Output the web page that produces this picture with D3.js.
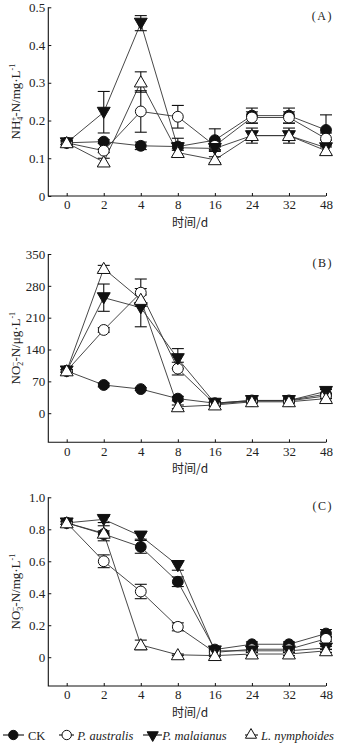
<!DOCTYPE html>
<html>
<head>
<meta charset="utf-8">
<script src="https://cdn.jsdelivr.net/npm/d3@7"></script>
<style>
  body { margin: 0; background: #fff; }
  svg { display: block; }
  text { font-family: "Liberation Serif", "Times New Roman", serif; fill: #222; }
</style>
</head>
<body>
<svg class="fig" width="347" height="745"></svg>
<script>
var w = 347;
var h = 745;

var days = ["0", "2", "4", "8", "16", "24", "32", "48"];
var seriesNames = ["CK", "P. australis", "P. malaianus", "L. nymphoides"];

// (A) NH4+-N, mg/L
var nh4_CK = [0.141, 0.144, 0.133, 0.131, 0.148, 0.213, 0.213, 0.175];
var nh4_CK_err = [0.005, 0.005, 0.01, 0.01, 0.03, 0.02, 0.02, 0.04];
var nh4_PA = [0.141, 0.12, 0.224, 0.21, 0.133, 0.208, 0.208, 0.152];
var nh4_PA_err = [0.005, 0.005, 0.055, 0.03, 0.01, 0.015, 0.015, 0.015];
var nh4_PM = [0.141, 0.222, 0.458, 0.128, 0.126, 0.16, 0.16, 0.128];
var nh4_PM_err = [0.005, 0.055, 0.02, 0.025, 0.005, 0.01, 0.01, 0.02];
var nh4_LN = [0.141, 0.09, 0.302, 0.115, 0.096, 0.16, 0.16, 0.12];
var nh4_LN_err = [0.005, 0.01, 0.027, 0.01, 0.008, 0.02, 0.02, 0.01];
var nh4_ticks = [0, 0.1, 0.2, 0.3, 0.4, 0.5];

// (B) NO2--N, ug/L
var no2_CK = [93, 62, 53, 32, 22, 28, 28, 42];
var no2_CK_err = [3, 4, 3, 5, 3, 3, 3, 10];
var no2_PA = [93, 183, 265, 98, 20, 27, 27, 38];
var no2_PA_err = [3, 5, 30, 14, 3, 3, 3, 5];
var no2_PM = [93, 254, 232, 120, 22, 28, 28, 48];
var no2_PM_err = [3, 30, 42, 22, 3, 3, 3, 8];
var no2_LN = [93, 318, 250, 14, 18, 25, 25, 32];
var no2_LN_err = [3, 7, 10, 4, 3, 3, 3, 6];
var no2_ticks = [0, 70, 140, 210, 280, 350];

// (C) NO3--N, mg/L
var no3_CK = [0.84, 0.77, 0.69, 0.472, 0.048, 0.081, 0.081, 0.148];
var no3_CK_err = [0.01, 0.02, 0.04, 0.03, 0.01, 0.015, 0.015, 0.025];
var no3_PA = [0.84, 0.6, 0.411, 0.19, 0.03, 0.05, 0.05, 0.115];
var no3_PA_err = [0.01, 0.04, 0.045, 0.025, 0.01, 0.01, 0.01, 0.015];
var no3_PM = [0.84, 0.862, 0.758, 0.574, 0.04, 0.04, 0.04, 0.058];
var no3_PM_err = [0.01, 0.02, 0.02, 0.03, 0.01, 0.01, 0.01, 0.01];
var no3_LN = [0.84, 0.775, 0.077, 0.015, 0.01, 0.02, 0.02, 0.04];
var no3_LN_err = [0.01, 0.047, 0.03, 0.005, 0.005, 0.01, 0.01, 0.01];
var no3_ticks = [0, 0.2, 0.4, 0.6, 0.8, 1.0];

var canvas = d3.select(".fig");

var left = 48.3;
var right = 326;
var xScale = d3.scalePoint().domain(days).range([66.7, right]);

// marker styles: filled circle, open circle, filled down-triangle, open up-triangle
var markers = [
  { type: d3.symbolCircle, size: 92, fill: "#111", rot: 0 },
  { type: d3.symbolCircle, size: 92, fill: "#fff", rot: 0 },
  { type: d3.symbolTriangle, size: 72, fill: "#111", rot: 180 },
  { type: d3.symbolTriangle, size: 72, fill: "#fff", rot: 0 },
];

var panels = [
  {
    tag: "(A)", top: 7.3, bottom: 196, domain: [0, 0.5], ticks: nh4_ticks,
    fmt: function (d) { return d === 0 ? "0" : d3.format(".1f")(d); },
    label: ["NH", "4", "+", "-N/mg\u00b7L", "-1"],
    values: [nh4_CK, nh4_PA, nh4_PM, nh4_LN],
    errs: [nh4_CK_err, nh4_PA_err, nh4_PM_err, nh4_LN_err],
  },
  {
    tag: "(B)", top: 254, bottom: 442.3, domain: [-64, 350], ticks: no2_ticks,
    fmt: function (d) { return String(d); },
    label: ["NO", "2", "\u2212", "-N/\u03bcg\u00b7L", "-1"],
    values: [no2_CK, no2_PA, no2_PM, no2_LN],
    errs: [no2_CK_err, no2_PA_err, no2_PM_err, no2_LN_err],
  },
  {
    tag: "(C)", top: 497.3, bottom: 686, domain: [-0.18, 1.0], ticks: no3_ticks,
    fmt: function (d) { return d === 0 ? "0" : d3.format(".1f")(d); },
    label: ["NO", "3", "\u2212", "-N/mg\u00b7L", "-1"],
    values: [no3_CK, no3_PA, no3_PM, no3_LN],
    errs: [no3_CK_err, no3_PA_err, no3_PM_err, no3_LN_err],
  },
];

function drawPanel(p) {
  var yScale = d3.scaleLinear().domain(p.domain).range([p.bottom, p.top]);
  var g = canvas.append("g");

  var yAxis = d3.axisLeft(yScale).tickValues(p.ticks).tickFormat(p.fmt)
    .tickSizeInner(-3).tickSizeOuter(0).tickPadding(3);
  g.append("g")
    .attr("transform", "translate(" + left + ",0)")
    .call(yAxis)
    .call(function (s) { s.select(".domain").remove(); });

  var xAxis = d3.axisBottom(xScale).tickSizeInner(-3).tickSizeOuter(0).tickPadding(4);
  g.append("g")
    .attr("transform", "translate(0," + p.bottom + ")")
    .call(xAxis)
    .call(function (s) { s.select(".domain").remove(); });

  g.selectAll(".tick line").attr("stroke", "#111").attr("stroke-width", 1);
  g.selectAll(".tick text")
    .style("font-family", "'Liberation Serif', 'Times New Roman', serif")
    .style("font-size", "13px")
    .attr("fill", "#222");

  // L-shaped frame
  g.append("path")
    .attr("d", "M" + left + "," + yScale(p.domain[1]) + "V" + p.bottom + "H" + right)
    .attr("fill", "none")
    .attr("stroke", "#111")
    .attr("stroke-width", 1.1);

  // panel tag
  g.append("text")
    .attr("x", 333)
    .attr("y", p.top + 13)
    .attr("text-anchor", "end")
    .style("font-size", "12px")
    .style("letter-spacing", "1.5px")
    .text(p.tag);

  // x title
  g.append("text")
    .attr("x", 190)
    .attr("y", p.bottom + 30.5)
    .attr("text-anchor", "middle")
    .style("font-family", "'Noto Sans CJK SC', sans-serif")
    .style("font-size", "12px")
    .text("时间/d");

  // y title with sub/superscripts
  var yl = g.append("text")
    .attr("transform", "translate(20," + (p.top + p.bottom) / 2 + ") rotate(-90)")
    .attr("text-anchor", "middle")
    .style("font-size", "13px");
  yl.append("tspan").text(p.label[0]);
  yl.append("tspan").attr("dy", 2.5).style("font-size", "8px").text(p.label[1]);
  yl.append("tspan").attr("dx", -4.5).attr("dy", -7).style("font-size", "8px").text(p.label[2]);
  yl.append("tspan").attr("dy", 4.5).text(p.label[3]);
  yl.append("tspan").attr("dy", -5).style("font-size", "8px").text(p.label[4]);

  var line = d3.line()
    .x(function (d, i) { return xScale(days[i]); })
    .y(function (d) { return yScale(d); });

  p.values.forEach(function (vals) {
    g.append("path")
      .datum(vals)
      .attr("d", line)
      .attr("fill", "none")
      .attr("stroke", "#333")
      .attr("stroke-width", 0.9);
  });

  // error bars
  p.values.forEach(function (vals, k) {
    var errs = p.errs[k];
    var eb = g.append("g").attr("stroke", "#111").attr("stroke-width", 1.1);
    vals.forEach(function (v, i) {
      var cx = xScale(days[i]);
      var y1 = yScale(v + errs[i]);
      var y2 = yScale(v - errs[i]);
      eb.append("line").attr("x1", cx).attr("x2", cx).attr("y1", y1).attr("y2", y2);
      eb.append("line").attr("x1", cx - 6).attr("x2", cx + 6).attr("y1", y1).attr("y2", y1);
      eb.append("line").attr("x1", cx - 6).attr("x2", cx + 6).attr("y1", y2).attr("y2", y2);
    });
  });

  // markers
  p.values.forEach(function (vals, k) {
    var m = markers[k];
    g.selectAll("path.m" + k)
      .data(vals)
      .join("path")
      .attr("class", "m" + k)
      .attr("d", d3.symbol().type(m.type).size(m.size))
      .attr("transform", function (d, i) {
        var dy = m.type === d3.symbolTriangle ? (m.rot ? -1.2 : 1.2) : 0;
        return "translate(" + xScale(days[i]) + "," + (yScale(d) + dy) + ") rotate(" + m.rot + ")";
      })
      .attr("fill", m.fill)
      .attr("stroke", "#111")
      .attr("stroke-width", 1);
  });
}

panels.forEach(drawPanel);

// legend
var legendPos = [
  { x0: 3, x1: 24, cx: 13.3, tx: 28 },
  { x0: 59, x1: 74, cx: 66.7, tx: 77.3 },
  { x0: 143, x1: 162, cx: 152.7, tx: 162.3 },
  { x0: 245, x1: 258, cx: 251, tx: 261 },
];
var ly = 735;
var legend = canvas.append("g");
seriesNames.forEach(function (name, k) {
  var lp = legendPos[k];
  var m = markers[k];
  legend.append("line")
    .attr("x1", lp.x0).attr("x2", lp.x1).attr("y1", ly).attr("y2", ly)
    .attr("stroke", "#111").attr("stroke-width", 1.1);
  legend.append("path")
    .attr("d", d3.symbol().type(m.type).size(m.size * 0.75))
    .attr("transform", "translate(" + lp.cx + "," + ly + ") rotate(" + m.rot + ")")
    .attr("fill", m.fill)
    .attr("stroke", "#111");
  legend.append("text")
    .attr("x", lp.tx)
    .attr("y", ly + 4.5)
    .style("font-size", "12.5px")
    .style("font-style", k === 0 ? "normal" : "italic")
    .text(name);
});
</script>
</body>
</html>
